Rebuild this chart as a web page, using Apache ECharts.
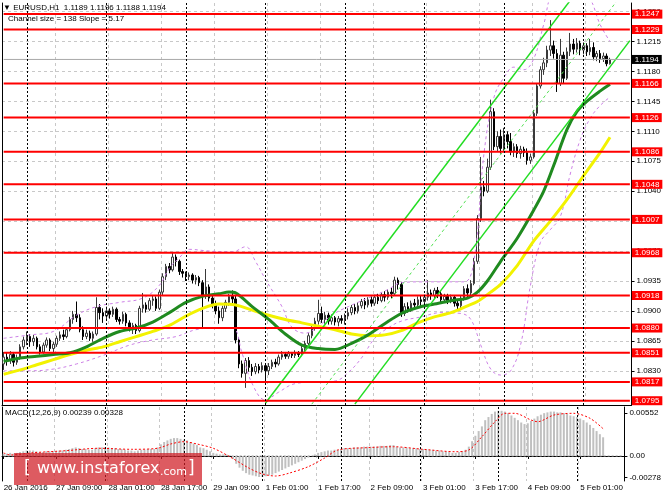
<!DOCTYPE html>
<html>
<head>
<meta charset="utf-8">
<script src="https://cdn.jsdelivr.net/npm/echarts@6/dist/echarts.min.js"></script>
<style>
html,body{margin:0;padding:0;background:#fff}
#chart{width:664px;height:498px}
</style>
</head>
<body>
<div id="chart"></div>
<script>
// hourly bars, first bar 26 Jan 17:00, last 5 Feb 08:00 (+6 empty slots on the right)
var dayNames = ['26 Jan','27 Jan','28 Jan','29 Jan','1 Feb','2 Feb','3 Feb','4 Feb','5 Feb'];
// bar index of each midnight (period separators)
var dayStarts = [7, 31, 55, 79, 103, 127, 151, 175];

// candles: [open, close, low, high]
var jan26 = [
  [1.0838,1.0846,1.0831,1.0852],[1.0846,1.0842,1.0836,1.0851],[1.0842,1.0849,1.0838,1.0853],
  [1.0849,1.0840,1.0835,1.0852],[1.0840,1.0845,1.0837,1.0849],[1.0845,1.0858,1.0843,1.0861],
  [1.0858,1.0866,1.0855,1.0870]
];
var jan27 = [
  [1.0866,1.0870,1.0860,1.0876],[1.0870,1.0864,1.0858,1.0873],[1.0864,1.0868,1.0859,1.0872],
  [1.0868,1.0858,1.0855,1.0870],[1.0858,1.0852,1.0849,1.0861],[1.0852,1.0860,1.0850,1.0863],
  [1.0860,1.0866,1.0857,1.0869],[1.0866,1.0856,1.0853,1.0868],[1.0856,1.0861,1.0852,1.0864],
  [1.0861,1.0868,1.0858,1.0871],[1.0868,1.0872,1.0865,1.0876],[1.0872,1.0870,1.0866,1.0878],
  [1.0870,1.0878,1.0868,1.0881],[1.0878,1.0890,1.0876,1.0893],[1.0890,1.0896,1.0885,1.0900],
  [1.0896,1.0892,1.0887,1.0911],[1.0892,1.0878,1.0875,1.0896],[1.0878,1.0870,1.0866,1.0882],
  [1.0870,1.0874,1.0867,1.0878],[1.0874,1.0868,1.0865,1.0877],[1.0868,1.0873,1.0864,1.0876],
  [1.0873,1.0904,1.0871,1.0916],[1.0904,1.0898,1.0890,1.0908],[1.0898,1.0894,1.0886,1.0903]
];
var jan28 = [
  [1.0894,1.0900,1.0890,1.0905],[1.0900,1.0896,1.0891,1.0903],[1.0896,1.0902,1.0893,1.0905],
  [1.0902,1.0890,1.0887,1.0904],[1.0890,1.0888,1.0884,1.0893],[1.0888,1.0896,1.0885,1.0899],
  [1.0896,1.0886,1.0882,1.0898],[1.0886,1.0880,1.0876,1.0889],[1.0880,1.0883,1.0873,1.0886],
  [1.0883,1.0877,1.0873,1.0885],[1.0877,1.0903,1.0875,1.0906],[1.0903,1.0907,1.0898,1.0921],
  [1.0907,1.0902,1.0898,1.0910],[1.0902,1.0912,1.0900,1.0915],[1.0912,1.0914,1.0906,1.0918],
  [1.0914,1.0903,1.0900,1.0917],[1.0903,1.0922,1.0901,1.0925],[1.0922,1.0940,1.0918,1.0944],
  [1.0940,1.0952,1.0936,1.0955],[1.0952,1.0948,1.0944,1.0956],[1.0948,1.0963,1.0946,1.0968],
  [1.0963,1.0958,1.0952,1.0966],[1.0958,1.0946,1.0942,1.0960],[1.0946,1.0944,1.0939,1.0949]
];
var jan29 = [
  [1.0944,1.0940,1.0935,1.0946],[1.0940,1.0942,1.0936,1.0945],[1.0942,1.0936,1.0932,1.0944],
  [1.0936,1.0939,1.0931,1.0942],[1.0939,1.0933,1.0929,1.0941],[1.0933,1.0918,1.0881,1.0936],
  [1.0918,1.0928,1.0914,1.0949],[1.0928,1.0915,1.0911,1.0931],[1.0915,1.0908,1.0903,1.0919],
  [1.0908,1.0900,1.0896,1.0912],[1.0900,1.0892,1.0885,1.0905],[1.0892,1.0903,1.0888,1.0906],
  [1.0903,1.0910,1.0899,1.0913],[1.0910,1.0917,1.0906,1.0920],[1.0917,1.0914,1.0909,1.0924],
  [1.0914,1.0866,1.0862,1.0918],[1.0866,1.0838,1.0833,1.0869],[1.0838,1.0827,1.0822,1.0842],
  [1.0827,1.0842,1.0810,1.0845],[1.0842,1.0834,1.0829,1.0846],[1.0834,1.0829,1.0824,1.0838],
  [1.0829,1.0835,1.0826,1.0839],[1.0835,1.0831,1.0827,1.0838],[1.0831,1.0836,1.0828,1.0840]
];
var feb01 = [
  [1.0836,1.0830,1.0814,1.0838],[1.0830,1.0835,1.0825,1.0839],[1.0835,1.0840,1.0832,1.0843],
  [1.0840,1.0838,1.0834,1.0844],[1.0838,1.0846,1.0836,1.0849],[1.0846,1.0849,1.0843,1.0853],
  [1.0849,1.0847,1.0844,1.0852],[1.0847,1.0850,1.0844,1.0853],[1.0850,1.0848,1.0845,1.0852],
  [1.0848,1.0851,1.0845,1.0854],[1.0851,1.0849,1.0846,1.0853],[1.0849,1.0856,1.0847,1.0859],
  [1.0856,1.0862,1.0853,1.0865],[1.0862,1.0871,1.0860,1.0874],[1.0871,1.0880,1.0868,1.0883],
  [1.0880,1.0888,1.0877,1.0892],[1.0888,1.0897,1.0884,1.0913],[1.0897,1.0890,1.0886,1.0905],
  [1.0890,1.0895,1.0885,1.0899],[1.0895,1.0888,1.0884,1.0898],[1.0888,1.0892,1.0884,1.0896],
  [1.0892,1.0887,1.0883,1.0894],[1.0887,1.0891,1.0882,1.0894],[1.0891,1.0889,1.0885,1.0895]
];
var feb02 = [
  [1.0889,1.0894,1.0884,1.0897],[1.0894,1.0898,1.0890,1.0903],[1.0898,1.0904,1.0895,1.0907],
  [1.0904,1.0900,1.0896,1.0908],[1.0900,1.0906,1.0897,1.0910],[1.0906,1.0911,1.0903,1.0914],
  [1.0911,1.0907,1.0902,1.0915],[1.0907,1.0913,1.0904,1.0916],[1.0913,1.0909,1.0905,1.0917],
  [1.0909,1.0916,1.0906,1.0919],[1.0916,1.0912,1.0908,1.0920],[1.0912,1.0919,1.0910,1.0922],
  [1.0919,1.0916,1.0911,1.0923],[1.0916,1.0922,1.0913,1.0925],[1.0922,1.0920,1.0915,1.0927],
  [1.0920,1.0936,1.0918,1.0940],[1.0936,1.0931,1.0925,1.0939],[1.0931,1.0897,1.0893,1.0934],
  [1.0897,1.0905,1.0894,1.0909],[1.0905,1.0902,1.0898,1.0910],[1.0902,1.0909,1.0899,1.0912],
  [1.0909,1.0907,1.0902,1.0914],[1.0907,1.0913,1.0904,1.0917],[1.0913,1.0911,1.0906,1.0918]
];
var feb03 = [
  [1.0911,1.0916,1.0907,1.0919],[1.0916,1.0921,1.0912,1.0936],[1.0921,1.0918,1.0913,1.0925],
  [1.0918,1.0924,1.0915,1.0927],[1.0924,1.0920,1.0915,1.0928],[1.0920,1.0913,1.0909,1.0923],
  [1.0913,1.0917,1.0910,1.0920],[1.0917,1.0912,1.0908,1.0920],[1.0912,1.0916,1.0909,1.0919],
  [1.0916,1.0909,1.0905,1.0918],[1.0909,1.0906,1.0901,1.0912],[1.0906,1.0915,1.0903,1.0918],
  [1.0915,1.0926,1.0912,1.0929],[1.0926,1.0921,1.0916,1.0931],[1.0921,1.0932,1.0918,1.0936],
  [1.0932,1.0958,1.0930,1.0962],[1.0958,1.1008,1.0955,1.1012],[1.1008,1.1045,1.1004,1.1080],
  [1.1045,1.1040,1.1034,1.1052],[1.1040,1.1068,1.1038,1.1078],[1.1068,1.1133,1.1065,1.1147],
  [1.1133,1.1092,1.1088,1.1137],[1.1092,1.1104,1.1086,1.1110],[1.1104,1.1090,1.1084,1.1112]
];
var feb04 = [
  [1.1090,1.1106,1.1086,1.1114],[1.1106,1.1098,1.1090,1.1110],[1.1098,1.1086,1.1082,1.1108],
  [1.1086,1.1092,1.1080,1.1096],[1.1092,1.1084,1.1079,1.1095],[1.1084,1.1089,1.1078,1.1093],
  [1.1089,1.1085,1.1080,1.1092],[1.1085,1.1076,1.1071,1.1090],[1.1076,1.1080,1.1072,1.1084],
  [1.1080,1.1131,1.1078,1.1135],[1.1131,1.1163,1.1128,1.1166],[1.1163,1.1182,1.1160,1.1186],
  [1.1182,1.1190,1.1176,1.1196],[1.1190,1.1205,1.1185,1.1210],[1.1205,1.1210,1.1198,1.1240],
  [1.1210,1.1201,1.1195,1.1216],[1.1201,1.1166,1.1156,1.1206],[1.1166,1.1199,1.1163,1.1218],
  [1.1199,1.1172,1.1166,1.1203],[1.1172,1.1203,1.1170,1.1208],[1.1203,1.1212,1.1198,1.1225],
  [1.1212,1.1206,1.1200,1.1218],[1.1206,1.1213,1.1202,1.1219],[1.1213,1.1205,1.1199,1.1216]
];
var feb05 = [
  [1.1205,1.1210,1.1200,1.1214],[1.1210,1.1203,1.1198,1.1213],[1.1203,1.1208,1.1199,1.1218],
  [1.1208,1.1197,1.1193,1.1214],[1.1197,1.1201,1.1192,1.1204],[1.1201,1.1195,1.1190,1.1205],
  [1.1195,1.1198,1.1191,1.1202],[1.1198,1.1189,1.1186,1.1201],[1.1189,1.1194,1.1188,1.1196]
];

// moving averages and bands, read at sample bars: [bar index, price]
var greenMA = [[0,1.0841],[5,1.0845],[10,1.0847],[15,1.0849],[20,1.0851],[25,1.0858],[30,1.0868],
  [35,1.0876],[40,1.0880],[45,1.0887],[50,1.0898],[55,1.0910],[60,1.0917],[65,1.0920],[68,1.0922],
  [70,1.0921],[75,1.0905],[80,1.0890],[85,1.0873],[90,1.0860],[95,1.0856],[100,1.0855],[105,1.0862],
  [110,1.0872],[115,1.0885],[120,1.0897],[125,1.0904],[130,1.0908],[135,1.0912],[140,1.0915],
  [143,1.0922],[146,1.0935],[150,1.0958],[155,1.0985],[160,1.1018],[163,1.1040],[166,1.1070],
  [170,1.1112],[173,1.1133],[176,1.1145],[180,1.1157],[183,1.1165]];
var yellowMA = [[0,1.0826],[5,1.0831],[10,1.0837],[15,1.0843],[20,1.0849],[25,1.0854],[30,1.0858],
  [35,1.0864],[40,1.0870],[45,1.0876],[50,1.0883],[55,1.0894],[60,1.0903],[65,1.0908],[70,1.0907],
  [75,1.0901],[80,1.0895],[85,1.0890],[90,1.0886],[95,1.0882],[100,1.0878],[105,1.0873],[110,1.0871],
  [115,1.0872],[120,1.0877],[125,1.0886],[130,1.0893],[135,1.0898],[140,1.0906],[143,1.0911],
  [147,1.0922],[150,1.0931],[155,1.0953],[160,1.0982],[165,1.1005],[170,1.1030],[175,1.1058],
  [180,1.1085],[183,1.1103]];
var bandUpper = [[0,1.0868],[8,1.0872],[15,1.0876],[22,1.0895],[28,1.0905],[35,1.0910],[42,1.0915],
  [47,1.0930],[50,1.0950],[53,1.0962],[56,1.0972],[62,1.0970],[69,1.0969],[73,1.0975],[76,1.0958],
  [79,1.0937],[84,1.0905],[87,1.0881],[91,1.0874],[95,1.0882],[99,1.0895],[104,1.0905],[110,1.0915],
  [116,1.0925],[120,1.0933],[126,1.0934],[132,1.0934],[139,1.0934],[142,1.0960],[145,1.1085],
  [148,1.1150],[151,1.1173],[154,1.1185],[157,1.1182],[160,1.1195],[163,1.1235],[166,1.1275],
  [172,1.1290],[177,1.1265],[180,1.1235],[183,1.1215]];
var bandLower = [[0,1.0830],[8,1.0830],[15,1.0832],[22,1.0838],[30,1.0848],[38,1.0860],[45,1.0866],
  [52,1.0870],[58,1.0878],[64,1.0880],[69,1.0880],[72,1.0850],[75,1.0815],[79,1.0796],[83,1.0805],
  [88,1.0815],[95,1.0817],[100,1.0818],[104,1.0828],[108,1.0845],[112,1.0868],[116,1.0880],
  [120,1.0888],[126,1.0893],[132,1.0898],[138,1.0897],[141,1.0890],[144,1.0860],[147,1.0832],
  [150,1.0825],[153,1.0830],[156,1.0860],[159,1.0930],[162,1.0980],[165,1.0995],[168,1.1010],
  [171,1.1060],[174,1.1100],[177,1.1125],[180,1.1140],[183,1.1150]];

// regression channel (two points per line)
var channelLow = [[79,1.0792],[171,1.1263]];
var channelMid = [[93,1.0791],[185,1.1262]];
var channelHigh = [[106,1.0791],[189,1.1216]];

var levels = [1.1247,1.1229,1.1166,1.1126,1.1086,1.1048,1.1007,1.0968,1.0918,1.0880,1.0851,1.0817,1.0795];
var lastPrice = 1.1194;
var priceTicks = [1.0830,1.0865,1.0900,1.0935,1.0970,1.1005,1.1040,1.1075,1.1110,1.1145,1.1180,1.1215,1.1250];
var macdTicks = [-0.00278, 0, 0.00552];

var macdHist = [
  0.0003,0.0003,0.0004,0.0003,0.0004,0.0005,0.0006,0.0007,
  0.0007,0.0007,0.0006,0.0005,0.0005,0.0006,0.0006,0.0006,
  0.0006,0.0007,0.0007,0.0008,0.0009,0.0010,0.0011,
  0.0010,0.0009,0.0009,0.0008,0.0008,0.0010,0.0011,0.0011,
  0.0011,0.0011,0.0010,0.0010,0.0009,0.0009,0.0008,0.0007,0.0007,0.0006,0.0007,
  0.0008,0.0008,0.0009,0.0009,0.0009,0.0011,
  0.0015,0.0018,0.0020,0.0022,0.0023,
  0.0023,0.0022,0.0021,0.0020,
  0.0018,0.0016,0.0014,0.0011,0.0010,0.0008,
  0.0006,0.0004,0.0003,0.0002,0.0002,0.0002,
  0.0001,-0.0004,-0.0010,-0.0015,
  -0.0019,-0.0022,-0.0024,-0.0025,
  -0.0026,-0.0027,-0.0027,-0.0026,-0.0025,
  -0.0024,-0.0022,-0.0020,-0.0018,-0.0016,
  -0.0014,-0.0012,-0.0010,-0.0008,-0.0006,-0.0004,
  -0.0002,0.0000,0.0002,0.0004,0.0005,0.0006,
  0.0007,0.0007,0.0008,0.0008,0.0009,0.0010,
  0.0010,0.0010,0.0011,0.0011,0.0011,0.0012,0.0012,0.0012,0.0012,0.0012,0.0013,0.0013,0.0013,
  0.0014,0.0014,0.0012,0.0011,
  0.0011,0.0011,0.0010,0.0010,0.0010,0.0009,0.0009,0.0009,0.0008,
  0.0008,0.0007,0.0007,0.0006,0.0006,0.0005,0.0004,0.0004,0.0005,
  0.0006,0.0008,0.0012,0.0019,
  0.0026,0.0032,0.0038,0.0046,0.0050,
  0.0054,0.0057,0.0058,0.0058,0.0057,0.0055,
  0.0052,0.0049,0.0046,0.0043,0.0041,
  0.0042,0.0045,0.0048,0.0051,0.0053,0.0055,
  0.0056,0.0057,0.0057,0.0056,0.0056,0.0055,0.0054,
  0.0052,0.0051,0.0050,0.0048,0.0046,
  0.0043,0.0040,0.0036,0.0032,0.0028,0.0024
];
var macdSignal = [[0,0.00039],[2,0.00013],[9,0.00042],[19,0.00068],[29,0.00099],[39,0.00086],
  [47,0.00099],[51,0.00154],[55,0.00184],[59,0.00154],[64,0.00099],[69,-0.00009],[75,-0.00158],
  [79,-0.00231],[83,-0.00257],[87,-0.00222],[93,-0.00137],[98,-0.00026],[102,0.00077],[111,0.00107],
  [119,0.00119],[128,0.00086],[138,0.00055],[142,0.00077],[146,0.00248],[150,0.00440],[153,0.00548],
  [156,0.00548],[161,0.00462],[163,0.00440],[168,0.00526],[174,0.00548],[179,0.00484],[183,0.00350]];

var priceRange = [1.0790, 1.1260];
var macdRange = [-0.00321, 0.00629];

// categories
var cats = [];
for (var d = 0; d < dayNames.length && cats.length < 190; d++) {
  for (var h = (d === 0 ? 17 : 0); h < 24 && cats.length < 190; h++) {
    cats.push(dayNames[d] + ' ' + (h < 10 ? '0' + h : String(h)) + ':00');
  }
}
var lastSlot = cats.length - 1;
var candles = jan26.concat(jan27, jan28, jan29, feb01, feb02, feb03, feb04, feb05);

function lineSeries(data, color, width, type, z, smooth) {
  return {
    type: 'line', xAxisIndex: 0, yAxisIndex: 0, data: data, symbol: 'none', silent: true,
    smooth: smooth, z: z, lineStyle: {color: color, width: width, type: type}
  };
}
function levelSeries(v, color, width, bg) {
  return {
    type: 'line', xAxisIndex: 0, yAxisIndex: 0, data: [[0, v], [lastSlot, v]], symbol: 'none',
    silent: true, z: 6, lineStyle: {color: color, width: width},
    endLabel: {show: true, distance: 2, formatter: v.toFixed(4), color: '#fff', backgroundColor: bg,
      padding: [1, 3, 0, 3], fontSize: 8, lineHeight: 8}
  };
}
// period separators: dotted vertical line through a whole panel at each midnight bar
function sepSeries(xi, yi, range) {
  return {
    type: 'custom', xAxisIndex: xi, yAxisIndex: yi, silent: true, z: 8, clip: false,
    data: dayStarts.map(function (i) { return [i, range[0]]; }),
    encode: {x: 0, y: 1},
    renderItem: function (params, api) {
      var p0 = api.coord([api.value(0), range[0]]);
      var p1 = api.coord([api.value(0), range[1]]);
      var x = Math.round(p0[0]) + 0.5;
      return {type: 'line', shape: {x1: x, y1: p0[1], x2: x, y2: p1[1]},
        style: {stroke: '#000000', lineWidth: 1, lineDash: [2, 2]}};
    }
  };
}

var gridLine = {color: '#c8c8c8', type: [3, 3], width: 1};

var series = [
  {type: 'candlestick', xAxisIndex: 0, yAxisIndex: 0, data: candles, barWidth: 2, z: 3,
    itemStyle: {color: '#ffffff', color0: '#000000', borderColor: '#3a3a3a', borderColor0: '#000000', borderWidth: 1}},
  lineSeries(bandUpper, '#cc80e6', 1, [3, 3], 4, 0.4),
  lineSeries(bandLower, '#cc80e6', 1, [3, 3], 4, 0.4),
  lineSeries(yellowMA, '#f2f200', 3, 'solid', 5, 0.3),
  lineSeries(greenMA, '#1f8a1f', 3, 'solid', 5, 0.3),
  lineSeries(channelLow, '#22dd22', 1.5, 'solid', 6, false),
  lineSeries(channelMid, '#55e055', 1, [3, 3], 6, false),
  lineSeries(channelHigh, '#22dd22', 1.5, 'solid', 6, false),
  levelSeries(lastPrice, '#a8a8a8', 1, '#000')
];
levels.forEach(function (v) { series.push(levelSeries(v, '#ff0000', 2, '#ff0000')); });
series.push(
  {type: 'line', xAxisIndex: 1, yAxisIndex: 2, data: [[0, 0], [lastSlot, 0]], symbol: 'none', silent: true,
    z: 1, lineStyle: {color: '#a0a0a0', width: 1, type: [2, 2]}},
  {type: 'bar', xAxisIndex: 1, yAxisIndex: 2, data: macdHist, barWidth: 2, silent: true, z: 2,
    itemStyle: {color: '#c0c0c0'}},
  {type: 'line', xAxisIndex: 1, yAxisIndex: 2, data: macdSignal, symbol: 'none', silent: true, smooth: 0.3,
    z: 4, lineStyle: {color: '#ff0000', width: 1, type: [2, 2]}},
  sepSeries(0, 0, priceRange),
  sepSeries(1, 2, macdRange)
);

var chart = echarts.init(document.getElementById('chart'));
var option = {
  animation: false,
  textStyle: {fontFamily: 'Liberation Sans'},
  grid: [
    {left: 2, right: 32, top: 3, height: 402},
    {left: 2, right: 32, top: 407, height: 74}
  ],
  xAxis: [
    {type: 'category', gridIndex: 0, data: cats, boundaryGap: true,
      axisLine: {show: true, lineStyle: {color: '#000'}}, axisTick: {show: false}, axisLabel: {show: false},
      splitLine: {show: true, interval: 15, lineStyle: gridLine}},
    {type: 'category', gridIndex: 1, data: cats, boundaryGap: true,
      axisLine: {show: true, lineStyle: {color: '#000'}},
      axisTick: {show: true, interval: 15, length: 3, alignWithLabel: true, lineStyle: {color: '#000'}},
      axisLabel: {show: true, interval: 15, align: 'left', fontSize: 8, color: '#000', margin: 3,
        formatter: function (v, i) { return i === 0 ? '26 Jan 2016' : v; }},
      splitLine: {show: true, interval: 15, lineStyle: gridLine}}
  ],
  yAxis: [
    {type: 'value', gridIndex: 0, position: 'right', min: priceRange[0], max: priceRange[1],
      axisLine: {show: true, lineStyle: {color: '#000'}},
      axisTick: {show: true, length: 3, customValues: priceTicks, lineStyle: {color: '#000'}},
      axisLabel: {customValues: priceTicks, fontSize: 8, color: '#000', margin: 5,
        formatter: function (v) { return v.toFixed(4); }},
      splitLine: {show: true, lineStyle: gridLine}},
    {type: 'value', gridIndex: 0, position: 'left', min: priceRange[0], max: priceRange[1],
      axisLine: {show: true, lineStyle: {color: '#000'}}, axisTick: {show: false},
      axisLabel: {show: false}, splitLine: {show: false}},
    {type: 'value', gridIndex: 1, position: 'right', min: macdRange[0], max: macdRange[1],
      axisLine: {show: true, lineStyle: {color: '#000'}},
      axisTick: {show: true, length: 3, customValues: macdTicks, lineStyle: {color: '#000'}},
      axisLabel: {customValues: macdTicks, fontSize: 8, color: '#000', margin: 5,
        formatter: function (v) { return v === 0 ? '0.00' : v.toFixed(5); }},
      splitLine: {show: false}},
    {type: 'value', gridIndex: 1, position: 'left', min: macdRange[0], max: macdRange[1],
      axisLine: {show: true, lineStyle: {color: '#000'}}, axisTick: {show: false},
      axisLabel: {show: false}, splitLine: {show: false}}
  ],
  series: series,
  graphic: [
    {type: 'text', x: 3, y: 8, z: 50, style: {text: '\u25BC EURUSD,H1  1.1189 1.1196 1.1188 1.1194',
      font: '8px Liberation Sans', fill: '#000', verticalAlign: 'middle'}},
    {type: 'text', x: 8, y: 19, z: 50, style: {text: 'Channel size = 138 Slope = 5.17',
      font: '8px Liberation Sans', fill: '#000', verticalAlign: 'middle'}},
    {type: 'text', x: 5, y: 413, z: 50, style: {text: 'MACD(12,26,9) 0.00239 0.00328',
      font: '8px Liberation Sans', fill: '#000', verticalAlign: 'middle'}},
    {type: 'rect', z: 100, shape: {x: 14, y: 453, width: 188, height: 32},
      style: {fill: 'rgba(208,28,36,0.72)'}},
    {type: 'text', x: 24, y: 469, z: 101, style: {text: '[', font: '17px DejaVu Sans', fill: '#fff', verticalAlign: 'middle'}},
    {type: 'text', x: 37, y: 469, z: 101, style: {text: 'www.instaforex', font: '16px DejaVu Sans', fill: '#fff', verticalAlign: 'middle'}},
    {type: 'text', x: 160, y: 472, z: 101, style: {text: '.com', font: '11px DejaVu Sans', fill: '#fff', verticalAlign: 'middle'}},
    {type: 'text', x: 188, y: 469, z: 101, style: {text: ']', font: '17px DejaVu Sans', fill: '#fff', verticalAlign: 'middle'}}
  ]
};
chart.setOption(option);
</script>
</body>
</html>
